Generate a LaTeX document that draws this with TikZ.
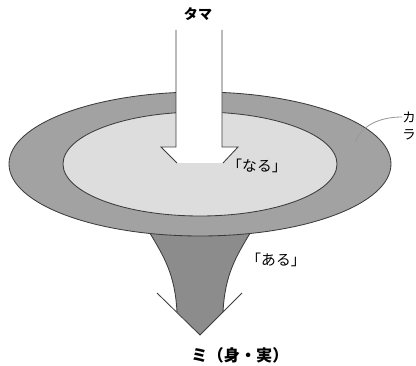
\documentclass[tikz,border=0pt]{standalone}
\usepackage{fontspec}
\usepackage{xcolor}
\usepackage{tikz}
\newfontfamily\jafont{Noto Sans CJK JP}

\definecolor{ringGray}{RGB}{162,162,162}
\definecolor{discGray}{RGB}{221,221,221}
\definecolor{funnelGray}{RGB}{140,140,140}
\definecolor{edgeGray}{RGB}{60,60,60}

\begin{document}
\begin{tikzpicture}[
			x=0.025cm,
			y=-0.025cm,
			% Filled shapes
			outline/.style={
				draw=edgeGray,
				line width=0.6pt
			},
			% Text labels
			labelText/.style={
				font=\jafont\fontsize{10.5}{12}\selectfont,
				inner sep=0pt
			},
			titleText/.style={
				font=\jafont\bfseries\fontsize{10}{12}\selectfont,
				inner sep=0pt
			},
			leader/.style={
				draw=gray!80,
				line width=0.6pt
			}
			]
			
			\useasboundingbox (0,0) rectangle (416,366);
			
			% Funnel below the disc
			\fill[funnelGray] (148,230) .. controls (165,258) and (175,275) .. (177,312)
			-- (200,335) -- (223,312) .. controls (225,275) and (235,258) .. (252,230) -- cycle;
			\draw[outline] (148,230) .. controls (165,258) and (175,275) .. (177,312);
			\draw[outline] (252,230) .. controls (235,258) and (225,275) .. (223,312);
			\draw[outline] (157,293) -- (200,335) -- (242,293);
			
			% Disc: outer ring and inner face
			\draw[outline,fill=ringGray] (200,164) ellipse [x radius=191,y radius=72];
			\draw[outline,fill=discGray] (200,164) ellipse [x radius=137,y radius=52];
			
			% Arrow sinking into the disc
			\fill[white] (176,30) -- (176,147) -- (161,147) -- (177,163)
			-- (223,163) -- (238,147) -- (222,147) -- (222,30) -- cycle;
			\draw[outline] (176,30) -- (176,147) -- (161,147) -- (177,163);
			\draw[outline] (223,163) -- (238,147) -- (222,147) -- (222,30);
			
			% Labels
			\node[titleText] (tama) at (198,14) {タマ};
			\node[labelText] (naru) at (257,166) {「なる」};
			\node[labelText] (aru) at (276,260) {「ある」};
			\node[titleText,font=\jafont\bfseries\fontsize{11.5}{13}\selectfont] (mi) at (240,355) {ミ（身・実）};
			\node[labelText,align=center,font=\jafont\fontsize{9.5}{12}\selectfont] (kara) at (409,126) {カ\\ラ};
			
			% Leader from the ring label
			\coordinate (ringPt) at (355,142);
			\draw[leader] (ringPt) .. controls (362,125) and (380,117) .. (kara.west |- 0,117);
			
		\end{tikzpicture}
\end{document}
